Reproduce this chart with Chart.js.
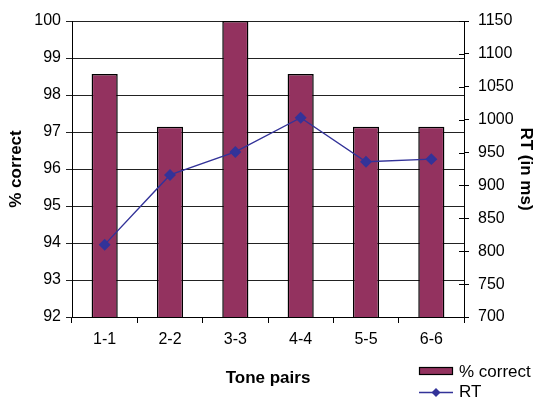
<!DOCTYPE html>
<html>
<head>
<meta charset="utf-8">
<script src="https://cdn.jsdelivr.net/npm/chart.js@4/dist/chart.umd.min.js"></script>
<style>
  html, body { margin: 0; padding: 0; background: #fff; }
  #wrap { width: 537px; height: 401px; position: relative; }
</style>
</head>
<body>
<div id="wrap"><canvas id="c" width="537" height="401"></canvas></div>
<script>
// Tone pair categories
const tonePairs = ['1-1', '2-2', '3-3', '4-4', '5-5', '6-6'];
// Percentage of correct responses per tone pair
const percentCorrect = [98.57, 97.14, 100, 98.57, 97.14, 97.14];
// Mean reaction time (ms) per tone pair
const reactionTime = [810, 916, 951, 1003, 936, 940];

const FONT = 'Liberation Sans, Arial, sans-serif';
const BAR_COLOR = '#93325F';
const LINE_COLOR = '#333399';

// Crossing tick marks on the RT axis and a hand-placed legend
const extras = {
  id: 'extras',
  afterDraw(chart) {
    const ctx = chart.ctx;
    const rt = chart.scales.yRT;
    ctx.save();
    ctx.strokeStyle = '#000';
    ctx.lineWidth = 1;
    rt.ticks.forEach(t => {
      const y = Math.round(rt.getPixelForValue(t.value)) + 0.5;
      ctx.beginPath();
      ctx.moveTo(rt.left - 5, y);
      ctx.lineTo(rt.left, y);
      ctx.stroke();
    });

    // legend: bar series first, then line series
    const bars = chart.data.datasets.find(d => d.type === 'bar');
    const line = chart.data.datasets.find(d => d.type === 'line');
    ctx.font = '17px ' + FONT;
    ctx.textBaseline = 'middle';
    ctx.textAlign = 'left';
    ctx.fillStyle = bars.backgroundColor;
    ctx.fillRect(419.5, 367.5, 33, 7);
    ctx.strokeStyle = '#000';
    ctx.lineWidth = 1.2;
    ctx.strokeRect(419.5, 367.5, 33, 7);
    ctx.fillStyle = '#000';
    ctx.fillText(bars.label, 459, 372);

    ctx.strokeStyle = line.borderColor;
    ctx.lineWidth = 1.3;
    ctx.beginPath();
    ctx.moveTo(419, 392.5);
    ctx.lineTo(453, 392.5);
    ctx.stroke();
    ctx.fillStyle = line.pointBackgroundColor;
    ctx.beginPath();
    ctx.moveTo(436, 388);
    ctx.lineTo(440.5, 392.5);
    ctx.lineTo(436, 397);
    ctx.lineTo(431.5, 392.5);
    ctx.closePath();
    ctx.fill();
    ctx.fillStyle = '#000';
    ctx.fillText(line.label, 459, 392);
    ctx.restore();
  }
};

new Chart(document.getElementById('c'), {
  type: 'bar',
  data: {
    labels: tonePairs,
    datasets: [
      {
        type: 'line',
        label: 'RT',
        data: reactionTime,
        yAxisID: 'yRT',
        borderColor: LINE_COLOR,
        borderWidth: 1.4,
        pointStyle: 'rectRot',
        pointRadius: 5,
        pointBackgroundColor: LINE_COLOR,
        pointBorderColor: LINE_COLOR,
        tension: 0,
        order: 0
      },
      {
        type: 'bar',
        label: '% correct',
        data: percentCorrect,
        yAxisID: 'yPct',
        backgroundColor: BAR_COLOR,
        borderColor: '#000',
        borderWidth: 1.5,
        borderSkipped: false,
        barPercentage: 0.4,
        categoryPercentage: 1,
        order: 1
      }
    ]
  },
  options: {
    responsive: false,
    animation: false,
    events: [],
    layout: { padding: { top: 21, left: 0, right: 0, bottom: 0 } },
    plugins: { legend: { display: false }, tooltip: { enabled: false } },
    scales: {
      x: {
        afterFit(s) { s.height = 84; },
        grid: { drawOnChartArea: false, color: '#000', tickLength: 6, offset: true },
        border: { color: '#000' },
        ticks: { color: '#000', font: { family: FONT, size: 16 }, padding: 7, maxRotation: 0 },
        title: { display: true, text: 'Tone pairs', color: '#000', font: { family: FONT, size: 17, weight: 'bold' }, padding: { top: 10, bottom: 12 } }
      },
      yPct: {
        position: 'left',
        min: 92, max: 100,
        afterFit(s) { s.width = 72; },
        ticks: { stepSize: 1, color: '#000', font: { family: FONT, size: 16 }, padding: 5, callback: v => String(v) },
        grid: { color: '#222', tickLength: 6 },
        border: { color: '#000' },
        title: { display: true, text: '% correct', color: '#000', font: { family: FONT, size: 17, weight: 'bold' }, padding: { top: 6, bottom: 0 } }
      },
      yRT: {
        position: 'right',
        min: 700, max: 1150,
        afterFit(s) { s.width = 73; },
        ticks: { stepSize: 50, color: '#000', font: { family: FONT, size: 16 }, padding: 9, callback: v => String(v) },
        grid: { drawOnChartArea: false, color: '#000', tickLength: 5 },
        border: { color: '#000' },
        title: { display: true, text: 'RT (in ms)', color: '#000', font: { family: FONT, size: 17, weight: 'bold' }, padding: { top: 1, bottom: 0 } }
      }
    }
  },
  plugins: [extras]
});
</script>
</body>
</html>
